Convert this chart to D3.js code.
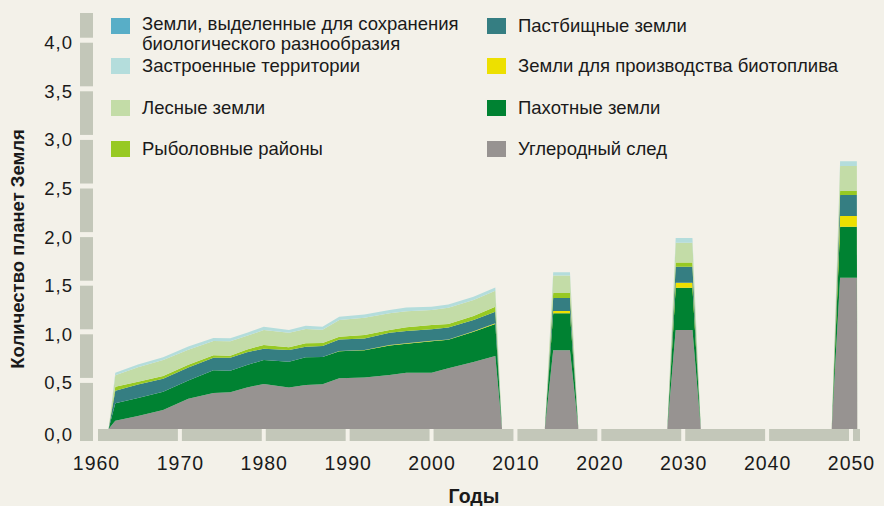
<!DOCTYPE html>
<html>
<head>
<meta charset="utf-8">
<script src="https://cdn.jsdelivr.net/npm/d3@7"></script>
<style>
body { margin: 0; background: #f3f1e9; }
svg { display: block; font-family: "Liberation Sans", Arial, sans-serif; }
</style>
</head>
<body>
<svg id="chart" width="884" height="506"></svg>
<script>
// слои снизу вверх
var keys = ["carbon", "cropland", "biofuel", "grazing", "fishing", "forest", "builtup", "biodiversity"];

// 1961-2007, количество планет Земля
var histYears        = [1962.3, 1965, 1968, 1971, 1974, 1976, 1978, 1980, 1983, 1985, 1987, 1989, 1992, 1995, 1997, 2000, 2002, 2005, 2007.6];
var carbonHist       = [0.085, 0.135, 0.195, 0.31, 0.37, 0.377, 0.428, 0.463, 0.428, 0.452, 0.46, 0.521, 0.531, 0.555, 0.579, 0.579, 0.624, 0.69, 0.751];
var croplandHist     = [0.179, 0.185, 0.189, 0.19, 0.234, 0.223, 0.23, 0.247, 0.264, 0.285, 0.28, 0.278, 0.278, 0.305, 0.299, 0.325, 0.293, 0.31, 0.33];
var biofuelHist      = [0, 0, 0, 0, 0, 0, 0, 0, 0, 0, 0, 0.003, 0.003, 0.004, 0.004, 0.004, 0.005, 0.006, 0.006];
var grazingHist      = [0.13, 0.137, 0.134, 0.134, 0.13, 0.133, 0.132, 0.116, 0.12, 0.109, 0.115, 0.12, 0.12, 0.126, 0.127, 0.117, 0.123, 0.115, 0.119];
var fishingHist      = [0.041, 0.028, 0.027, 0.027, 0.024, 0.02, 0.029, 0.038, 0.028, 0.035, 0.03, 0.027, 0.035, 0.028, 0.037, 0.044, 0.035, 0.041, 0.052];
var forestHist       = [0.117, 0.151, 0.165, 0.154, 0.147, 0.15, 0.14, 0.154, 0.15, 0.147, 0.135, 0.172, 0.178, 0.172, 0.165, 0.155, 0.168, 0.164, 0.164];
var builtupHist      = [0.027, 0.027, 0.027, 0.034, 0.031, 0.031, 0.031, 0.034, 0.028, 0.034, 0.033, 0.034, 0.034, 0.034, 0.038, 0.034, 0.034, 0.035, 0.035];
var biodiversityHist = [0, 0, 0, 0, 0, 0, 0, 0, 0, 0, 0, 0, 0, 0, 0, 0, 0, 0, 0];

// сценарий: 2015, 2030, 2050
var scenYears        = [2015.5, 2030.1, 2049.7];
var carbonScen       = [0.81, 1.018, 1.556];
var croplandScen     = [0.38, 0.435, 0.525];
var biofuelScen      = [0.024, 0.051, 0.11];
var grazingScen      = [0.134, 0.165, 0.216];
var fishingScen      = [0.05, 0.045, 0.041];
var forestScen       = [0.18, 0.202, 0.257];
var builtupScen      = [0.034, 0.048, 0.051];
var biodiversityScen = [0, 0, 0];

var yTicks = [0, 0.5, 1, 1.5, 2, 2.5, 3, 3.5, 4];
var xTicks = [1960, 1970, 1980, 1990, 2000, 2010, 2020, 2030, 2040, 2050];

var labels = {
  biodiversity: ["Земли, выделенные для сохранения", "биологического разнообразия"],
  builtup: ["Застроенные территории"],
  forest: ["Лесные земли"],
  fishing: ["Рыболовные районы"],
  grazing: ["Пастбищные земли"],
  biofuel: ["Земли для производства биотоплива"],
  cropland: ["Пахотные земли"],
  carbon: ["Углеродный след"]
};
var legendLeft = ["biodiversity", "builtup", "forest", "fishing"];
var legendRight = ["grazing", "biofuel", "cropland", "carbon"];

var colors = {
  carbon: "#979391",
  cropland: "#008232",
  biofuel: "#ede000",
  grazing: "#357e82",
  fishing: "#97c923",
  forest: "#c3dca7",
  builtup: "#b4dddc",
  biodiversity: "#58aec7"
};

var hist = {carbon: carbonHist, cropland: croplandHist, biofuel: biofuelHist, grazing: grazingHist,
  fishing: fishingHist, forest: forestHist, builtup: builtupHist, biodiversity: biodiversityHist};
var scen = {carbon: carbonScen, cropland: croplandScen, biofuel: biofuelScen, grazing: grazingScen,
  fishing: fishingScen, forest: forestScen, builtup: builtupScen, biodiversity: biodiversityScen};

function zeroRow(yr) { var r = {year: yr}; keys.forEach(function(k) { r[k] = 0; }); return r; }
function valRow(yr, src, i) { var r = {year: yr}; keys.forEach(function(k) { r[k] = src[k][i]; }); return r; }

var rows = [];
rows.push(zeroRow(histYears[0] - 0.8));
histYears.forEach(function(yr, i) { rows.push(valRow(yr, hist, i)); });
rows.push(zeroRow(histYears[histYears.length - 1] + 0.8));
scenYears.forEach(function(yr, i) {
  rows.push(zeroRow(yr - 2));
  rows.push(valRow(yr - 1, scen, i));
  rows.push(valRow(yr + 1, scen, i));
  rows.push(zeroRow(i == scenYears.length - 1 ? yr + 1.05 : yr + 2));
});

var svg = d3.select("#chart");
svg.append("rect").attr("width", 884).attr("height", 506).attr("fill", "#f3f1e9");

var x = d3.scaleLinear().domain([1960, 2050]).range([96, 851]);
var y = d3.scaleLinear().domain([0, 4.28]).range([429, 13]);

var barCol = "#c3c7b9";

// вертикальная полоса оси Y с разрывами на делениях
var yCuts = yTicks.filter(function(t) { return t > 0; });
var ySegs = [];
var prev = y(0) + 12;
yCuts.forEach(function(t) { ySegs.push([y(t) + 2.5, prev]); prev = y(t) - 2.5; });
ySegs.push([y.range()[1], prev]);
svg.append("g").selectAll("rect").data(ySegs).enter().append("rect")
  .attr("x", 80).attr("width", 13)
  .attr("y", function(d) { return d[0]; })
  .attr("height", function(d) { return d[1] - d[0]; })
  .attr("fill", barCol);

// горизонтальная полоса оси X
var xSegs = [];
for (var i = 0; i < xTicks.length; i++) {
  var a = x(xTicks[i]) + 2;
  var b = i < xTicks.length - 1 ? x(xTicks[i + 1]) - 2 : x(xTicks[i]) + 9;
  xSegs.push([a, b]);
}
svg.append("g").selectAll("rect").data(xSegs).enter().append("rect")
  .attr("x", function(d) { return d[0]; })
  .attr("width", function(d) { return d[1] - d[0]; })
  .attr("y", y(0)).attr("height", 12)
  .attr("fill", barCol);

// области
var stack = d3.stack().keys(keys);
var series = stack(rows);
var area = d3.area()
  .x(function(d) { return x(d.data.year); })
  .y0(function(d) { return y(d[0]); })
  .y1(function(d) { return y(d[1]); });

svg.append("g").selectAll("path").data(series).enter().append("path")
  .attr("d", area)
  .attr("fill", function(d) { return colors[d.key]; });

// подписи осей
svg.append("g").selectAll("text").data(yTicks).enter().append("text")
  .attr("x", 73)
  .attr("y", function(d) { return d == 0 ? y(d) + 6 : y(d) + 2.5; })
  .attr("dy", "0.35em")
  .attr("text-anchor", "end")
  .attr("font-size", 18.5)
  .attr("letter-spacing", 1)
  .attr("fill", "#1a1a1a")
  .text(function(d) { return d3.format(".1f")(d).replace(".", ","); });

svg.append("g").selectAll("text").data(xTicks).enter().append("text")
  .attr("x", function(d) { return x(d) + 0.5; })
  .attr("y", 470)
  .attr("text-anchor", "middle")
  .attr("font-size", 19.5)
  .attr("letter-spacing", 1)
  .attr("fill", "#1a1a1a")
  .text(function(d) { return d; });

svg.append("text")
  .attr("x", 474).attr("y", 503)
  .attr("text-anchor", "middle")
  .attr("font-size", 19.5).attr("font-weight", "bold")
  .attr("fill", "#1a1a1a")
  .text("Годы");

svg.append("text")
  .attr("transform", "translate(18,249) rotate(-90)")
  .attr("dy", "0.35em")
  .attr("text-anchor", "middle")
  .attr("font-size", 18.5).attr("font-weight", "bold")
  .attr("fill", "#1a1a1a")
  .text("Количество планет Земля");

// легенда
var rowY = [26, 66, 108, 149];
function drawLegend(list, sx, tx) {
  var g = svg.append("g");
  list.forEach(function(k, i) {
    g.append("rect").attr("x", sx).attr("y", (i == 0 ? 18 : rowY[i] - 8)).attr("width", 19).attr("height", 16)
      .attr("fill", colors[k]);
    labels[k].forEach(function(line, j) {
      g.append("text")
        .attr("x", tx)
        .attr("y", rowY[i] - (labels[k].length > 1 ? 2 : 0) + j * 19.5)
        .attr("dy", "0.35em")
        .attr("font-size", 18.5).attr("fill", "#1a1a1a")
        .text(line);
    });
  });
}
drawLegend(legendLeft, 111, 142);
drawLegend(legendRight, 487, 518);
</script>
</body>
</html>
